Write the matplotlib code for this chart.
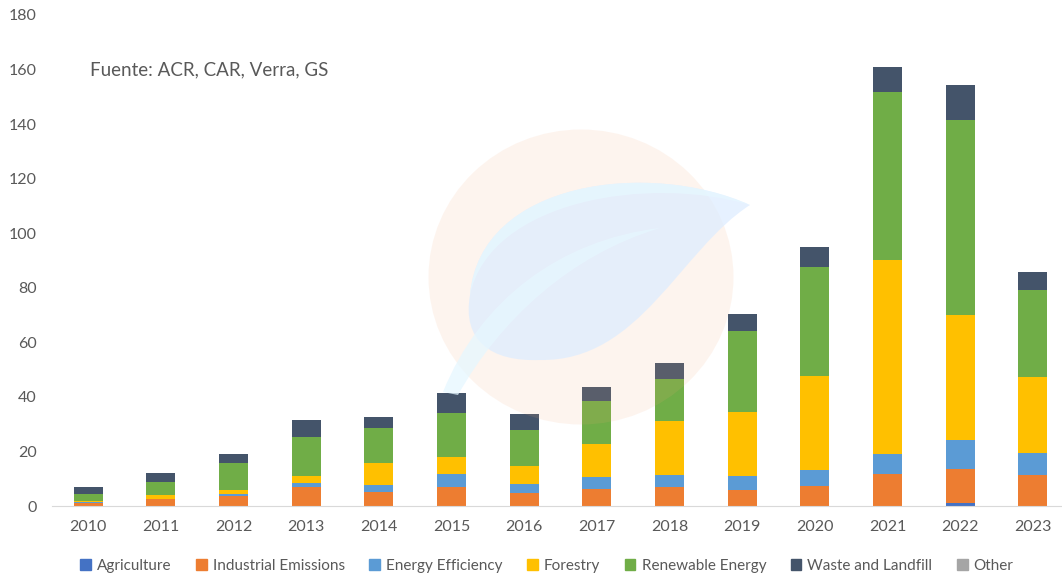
import matplotlib.pyplot as plt
import matplotlib.patches as mpatches
from matplotlib.path import Path
import numpy as np

plt.rcParams['font.family'] = ['Lato', 'DejaVu Sans']

years = ['2010', '2011', '2012', '2013', '2014', '2015', '2016',
         '2017', '2018', '2019', '2020', '2021', '2022', '2023']

agriculture = [0, 0, 0, 0, 0, 0, 0, 0, 0, 0, 0, 0, 1.0, 0]
industrial = [1.0, 2.5, 3.5, 6.9, 5.1, 6.9, 4.6, 6.1, 6.9, 5.9, 7.4, 11.8, 12.6, 11.2]
efficiency = [0.3, 0.2, 0.8, 1.7, 2.5, 4.8, 3.5, 4.4, 4.5, 5.2, 5.8, 7.1, 10.6, 8.1]
forestry = [0.5, 1.2, 1.6, 2.4, 8.3, 6.4, 6.7, 12.2, 19.8, 23.5, 34.6, 71.3, 45.8, 28.1]
renewable = [2.6, 4.9, 10.0, 14.4, 12.6, 16.1, 13.1, 15.8, 15.3, 29.7, 39.7, 61.7, 71.5, 31.8]
waste = [2.5, 3.4, 3.3, 6.1, 4.0, 7.3, 5.7, 5.0, 6.0, 6.1, 7.3, 9.1, 12.8, 6.5]
other = [0] * 14

series = [
    ('Agriculture', agriculture, '#4472C4'),
    ('Industrial Emissions', industrial, '#ED7D31'),
    ('Energy Efficiency', efficiency, '#5B9BD5'),
    ('Forestry', forestry, '#FFC000'),
    ('Renewable Energy', renewable, '#70AD47'),
    ('Waste and Landfill', waste, '#44546A'),
    ('Other', other, '#A5A5A5'),
]

W, H = 1062, 573
fig = plt.figure(figsize=(W / 100, H / 100), dpi=100)
ax = fig.add_axes([52 / W, 67 / H, 1017 / W, 491 / H])

x = np.arange(len(years))
bottom = np.zeros(len(years))
handles = []
for name, vals, color in series:
    vals = np.array(vals, dtype=float)
    ax.bar(x, vals, width=0.4, bottom=bottom, color=color, zorder=2)
    bottom += vals
    handles.append(mpatches.Patch(color=color, label=name))

ax.set_xlim(-0.5, 13.5)
ax.set_ylim(0, 180)
ax.set_yticks(range(0, 181, 20))
ax.set_xticks(x)
ax.set_xticklabels(years)
for s in ['top', 'right', 'left']:
    ax.spines[s].set_visible(False)
ax.spines['bottom'].set_color('#D9D9D9')
ax.tick_params(axis='both', length=0, labelsize=11.5, colors='#595959')
ax.tick_params(axis='x', pad=10)
ax.tick_params(axis='y', pad=11)

fig.text(90 / W, 1 - 70 / H, 'Fuente: ACR, CAR, Verra, GS',
         fontsize=13.5, color='#595959', va='center')


# faint logo watermark over the bars (pixel coords -> figure coords)
def shape(points, codes, color, alpha, z):
    verts = [(a / W, 1 - b / H) for a, b in points]
    p = mpatches.PathPatch(Path(verts, codes), transform=fig.transFigure,
                           facecolor=color, alpha=alpha, edgecolor='none', zorder=z)
    fig.patches.append(p)


circ = mpatches.Ellipse((581 / W, 1 - 277 / H), 305 / W, 295 / H, transform=fig.transFigure,
                        facecolor='#F5A877', alpha=0.12, edgecolor='none', zorder=5)
fig.patches.append(circ)

M, C = Path.MOVETO, Path.CURVE4
shape([(750, 205), (650, 160), (480, 180), (470, 295),
       (462, 340), (490, 362), (540, 360),
       (640, 362), (680, 250), (750, 205)],
      [M, C, C, C, C, C, C, C, C, C], '#DEEDFF', 0.75, 6)

shape([(750, 205), (650, 160), (480, 180), (470, 295),
       (490, 200), (650, 175), (750, 205)],
      [M, C, C, C, C, C, C], '#E6F7FF', 0.8, 7)

shape([(443, 392), (480, 300), (560, 240), (660, 228),
       (570, 255), (500, 320), (458, 395)],
      [M, C, C, C, C, C, C], '#E6F7FF', 0.75, 7)

fig.legend(handles=handles, loc='center', bbox_to_anchor=(0.515, 0.012), ncol=7,
           frameon=False, fontsize=11, handlelength=0.7, handleheight=0.7,
           handletextpad=0.4, columnspacing=1.6, labelcolor='#595959')

fig.savefig('out.png', dpi=100, facecolor='white')
